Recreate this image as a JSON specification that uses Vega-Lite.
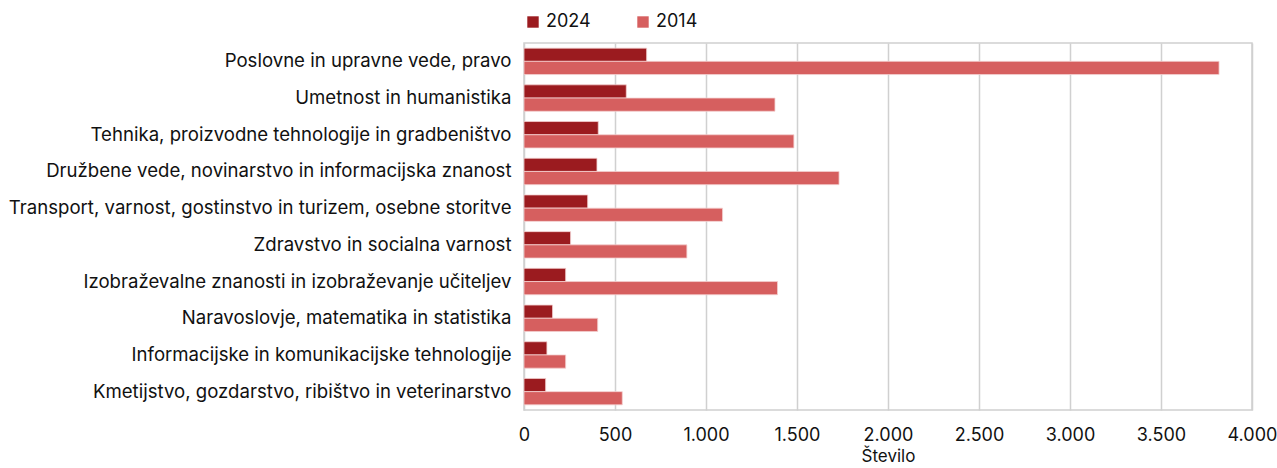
{
  "$schema": "https://vega.github.io/schema/vega-lite/v6.json",
  "width": 728,
  "height": 367,
  "autosize": {"type": "none"},
  "padding": {"left": 524, "top": 43, "right": 25, "bottom": 58},
  "config": {
    "font": "Inter",
    "view": {"stroke": "#d0d0d0", "strokeWidth": 1.5},
    "axis": {"labelFont": "Inter", "titleFont": "Inter", "labelColor": "#111111", "titleColor": "#111111"},
    "legend": {"labelFont": "Inter", "labelColor": "#111111"}
  },
  "data": {
    "values": [
      {"podrocje": "Poslovne in upravne vede, pravo", "leto": "2024", "stevilo": 674},
      {"podrocje": "Poslovne in upravne vede, pravo", "leto": "2014", "stevilo": 3819},
      {"podrocje": "Umetnost in humanistika", "leto": "2024", "stevilo": 562},
      {"podrocje": "Umetnost in humanistika", "leto": "2014", "stevilo": 1379},
      {"podrocje": "Tehnika, proizvodne tehnologije in gradbeništvo", "leto": "2024", "stevilo": 408},
      {"podrocje": "Tehnika, proizvodne tehnologije in gradbeništvo", "leto": "2014", "stevilo": 1483},
      {"podrocje": "Družbene vede, novinarstvo in informacijska znanost", "leto": "2024", "stevilo": 401},
      {"podrocje": "Družbene vede, novinarstvo in informacijska znanost", "leto": "2014", "stevilo": 1731},
      {"podrocje": "Transport, varnost, gostinstvo in turizem, osebne storitve", "leto": "2024", "stevilo": 350},
      {"podrocje": "Transport, varnost, gostinstvo in turizem, osebne storitve", "leto": "2014", "stevilo": 1091},
      {"podrocje": "Zdravstvo in socialna varnost", "leto": "2024", "stevilo": 256},
      {"podrocje": "Zdravstvo in socialna varnost", "leto": "2014", "stevilo": 895},
      {"podrocje": "Izobraževalne znanosti in izobraževanje učiteljev", "leto": "2024", "stevilo": 229},
      {"podrocje": "Izobraževalne znanosti in izobraževanje učiteljev", "leto": "2014", "stevilo": 1393},
      {"podrocje": "Naravoslovje, matematika in statistika", "leto": "2024", "stevilo": 157},
      {"podrocje": "Naravoslovje, matematika in statistika", "leto": "2014", "stevilo": 405},
      {"podrocje": "Informacijske in komunikacijske tehnologije", "leto": "2024", "stevilo": 126},
      {"podrocje": "Informacijske in komunikacijske tehnologije", "leto": "2014", "stevilo": 229},
      {"podrocje": "Kmetijstvo, gozdarstvo, ribištvo in veterinarstvo", "leto": "2024", "stevilo": 119},
      {"podrocje": "Kmetijstvo, gozdarstvo, ribištvo in veterinarstvo", "leto": "2014", "stevilo": 540}
    ]
  },
  "mark": {"type": "bar", "stroke": "#f4d0d0", "strokeWidth": 0.8},
  "encoding": {
    "y": {
      "field": "podrocje",
      "type": "nominal",
      "sort": null,
      "scale": {"paddingInner": 0.28, "paddingOuter": 0.14},
      "axis": {"title": null, "ticks": false, "domain": false, "labelFontSize": 18.6, "labelPadding": 13, "labelLimit": 0, "grid": false}
    },
    "yOffset": {"field": "leto", "type": "nominal", "sort": ["2024", "2014"]},
    "x": {
      "field": "stevilo",
      "type": "quantitative",
      "scale": {"domain": [0, 4000]},
      "axis": {
        "title": "Število",
        "titleFontSize": 17,
        "titleFontWeight": "normal",
        "titlePadding": 4,
        "values": [0, 500, 1000, 1500, 2000, 2500, 3000, 3500, 4000],
        "labelExpr": "replace(format(datum.value, ',d'), ',', '.')",
        "labelFontSize": 18,
        "labelPadding": 16,
        "labelFlush": false,
        "ticks": false,
        "domain": false,
        "gridColor": "#d0d0d0",
        "gridWidth": 1.5
      }
    },
    "color": {
      "field": "leto",
      "type": "nominal",
      "sort": ["2024", "2014"],
      "scale": {"domain": ["2024", "2014"], "range": ["#9b1b1f", "#d65f5f"]},
      "legend": {
        "title": null,
        "orient": "top",
        "direction": "horizontal",
        "symbolType": "square",
        "symbolSize": 130,
        "symbolStrokeWidth": 0,
        "labelFontSize": 18,
        "columnPadding": 43,
        "offset": 12
      }
    }
  }
}
